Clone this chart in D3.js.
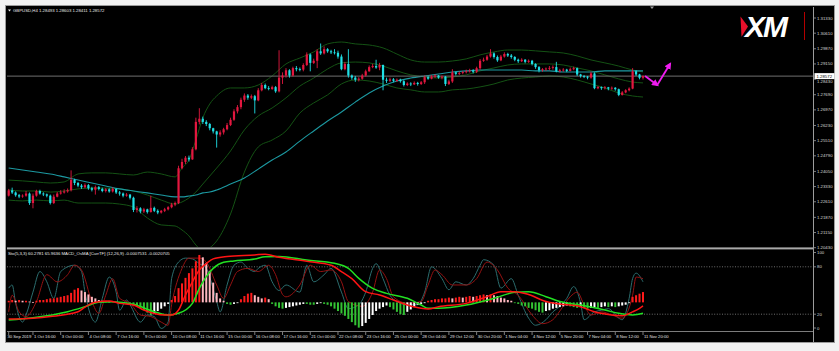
<!DOCTYPE html>
<html>
<head>
<meta charset="utf-8">
<title>GBPUSD H4</title>
<script src="https://cdnjs.cloudflare.com/ajax/libs/d3/7.8.5/d3.min.js"></script>
<style>
  body { margin: 0; background: #f2f2f2; }
  svg { display: block; }
  text { font-family: "Liberation Sans", Arial, sans-serif; }
</style>
</head>
<body>
<script>
//---- price data (H4 bars, open = previous close) ----
var symbol = "GBPUSD,H4";
var firstOpen = 1.2290;

var closes = [
  1.2315,1.2305,1.2292,1.2286,1.2290,1.2300,1.2255,1.2290,1.2312,1.2300,
  1.2296,1.2290,1.2255,1.2285,1.2300,1.2305,1.2310,1.2316,1.2365,1.2350,
  1.2338,1.2330,1.2340,1.2325,1.2318,1.2330,1.2322,1.2312,1.2320,1.2310,
  1.2322,1.2305,1.2300,1.2290,1.2295,1.2280,1.2222,1.2230,1.2215,1.2225,
  1.2212,1.2232,1.2218,1.2210,1.2218,1.2225,1.2235,1.2248,1.2255,1.2420,
  1.2450,1.2470,1.2462,1.2510,1.2640,1.2655,1.2640,1.2630,1.2610,1.2595,
  1.2580,1.2590,1.2605,1.2625,1.2650,1.2690,1.2710,1.2745,1.2765,1.2755,
  1.2762,1.2742,1.2790,1.2815,1.2800,1.2796,1.2805,1.2785,1.2850,1.2860,
  1.2885,1.2860,1.2895,1.2890,1.2888,1.2910,1.2960,1.2920,1.2930,1.2975,
  1.2965,1.2985,1.2975,1.2970,1.2968,1.2950,1.2890,1.2915,1.2860,1.2850,
  1.2840,1.2845,1.2860,1.2880,1.2900,1.2905,1.2898,1.2910,1.2840,1.2835,
  1.2842,1.2835,1.2840,1.2833,1.2815,1.2822,1.2818,1.2825,1.2820,1.2828,
  1.2852,1.2845,1.2855,1.2860,1.2850,1.2855,1.2820,1.2832,1.2875,1.2868,
  1.2872,1.2876,1.2880,1.2884,1.2878,1.2895,1.2930,1.2935,1.2950,1.2965,
  1.2948,1.2932,1.2950,1.2962,1.2955,1.2948,1.2935,1.2928,1.2935,1.2925,
  1.2930,1.2915,1.2900,1.2885,1.2890,1.2893,1.2896,1.2900,1.2880,1.2885,
  1.2888,1.2882,1.2890,1.2895,1.2865,1.2858,1.2855,1.2850,1.2870,1.2800,
  1.2805,1.2800,1.2804,1.2798,1.2802,1.2795,1.2768,1.2780,1.2790,1.2798,
  1.2880,1.2865,1.28493,1.28572
];

var highs = [
  1.2322,1.2328,1.2310,1.2298,1.2296,1.2312,1.2305,1.2300,1.2318,1.2318,
  1.2306,1.2300,1.2295,1.2295,1.2308,1.2316,1.2320,1.2324,1.2410,1.2370,
  1.2355,1.2345,1.2348,1.2345,1.2332,1.2338,1.2336,1.2328,1.2326,1.2325,
  1.2330,1.2325,1.2312,1.2305,1.2302,1.2298,1.2285,1.2240,1.2235,1.2232,
  1.2228,1.2290,1.2238,1.2225,1.2222,1.2232,1.2240,1.2256,1.2262,1.2432,
  1.2465,1.2478,1.2480,1.2520,1.2660,1.2705,1.2665,1.2648,1.2635,1.2612,
  1.2598,1.2600,1.2612,1.2635,1.2660,1.2700,1.2720,1.2755,1.2775,1.2772,
  1.2770,1.2768,1.2800,1.2825,1.2822,1.2810,1.2812,1.2810,1.2980,1.2875,
  1.2895,1.2890,1.2902,1.2905,1.2898,1.2918,1.2970,1.2965,1.2940,1.2985,
  1.3012,1.2998,1.2990,1.2982,1.2985,1.2978,1.2960,1.2925,1.2985,1.2865,
  1.2858,1.2852,1.2868,1.2888,1.2908,1.2915,1.2935,1.2920,1.2912,1.2850,
  1.2850,1.2848,1.2846,1.2845,1.2838,1.2828,1.2828,1.2832,1.2830,1.2834,
  1.2860,1.2858,1.2862,1.2866,1.2862,1.2860,1.2858,1.2840,1.2890,1.2878,
  1.2880,1.2882,1.2888,1.2892,1.2890,1.2902,1.2938,1.2945,1.2958,1.2985,
  1.2970,1.2955,1.2958,1.2970,1.2968,1.2962,1.2952,1.2940,1.2942,1.2938,
  1.2936,1.2934,1.2918,1.2905,1.2895,1.2898,1.2905,1.2908,1.2925,1.2892,
  1.2895,1.2892,1.2898,1.2902,1.2898,1.2868,1.2862,1.2858,1.2878,1.2875,
  1.2810,1.2808,1.2810,1.2806,1.2808,1.2805,1.2798,1.2786,1.2795,1.2804,
  1.2895,1.2885,1.2868,1.28603
];

var lows = [
  1.2286,1.2298,1.2285,1.2278,1.2280,1.2285,1.2246,1.2230,1.2285,1.2295,
  1.2288,1.2282,1.2248,1.2250,1.2282,1.2295,1.2300,1.2304,1.2310,1.2340,
  1.2330,1.2322,1.2325,1.2318,1.2310,1.2295,1.2315,1.2306,1.2305,1.2304,
  1.2305,1.2298,1.2290,1.2282,1.2285,1.2272,1.2212,1.2210,1.2206,1.2208,
  1.2205,1.2210,1.2212,1.2202,1.2205,1.2212,1.2220,1.2230,1.2240,1.2250,
  1.2415,1.2440,1.2452,1.2460,1.2505,1.2628,1.2630,1.2620,1.2600,1.2585,
  1.2518,1.2570,1.2580,1.2600,1.2620,1.2645,1.2680,1.2700,1.2735,1.2745,
  1.2748,1.2680,1.2738,1.2785,1.2795,1.2790,1.2792,1.2778,1.2780,1.2820,
  1.2850,1.2850,1.2855,1.2880,1.2880,1.2880,1.2905,1.2880,1.2915,1.2895,
  1.2958,1.2960,1.2968,1.2962,1.2960,1.2940,1.2885,1.2885,1.2850,1.2840,
  1.2830,1.2832,1.2840,1.2855,1.2878,1.2895,1.2892,1.2885,1.2790,1.2825,
  1.2830,1.2828,1.2830,1.2826,1.2808,1.2810,1.2810,1.2815,1.2812,1.2815,
  1.2820,1.2840,1.2842,1.2848,1.2845,1.2842,1.2810,1.2815,1.2825,1.2860,
  1.2862,1.2866,1.2870,1.2874,1.2870,1.2872,1.2888,1.2925,1.2930,1.2945,
  1.2940,1.2925,1.2928,1.2945,1.2948,1.2940,1.2928,1.2920,1.2924,1.2918,
  1.2920,1.2908,1.2892,1.2875,1.2878,1.2882,1.2885,1.2888,1.2875,1.2875,
  1.2878,1.2876,1.2880,1.2885,1.2858,1.2850,1.2848,1.2842,1.2845,1.2795,
  1.2795,1.2792,1.2794,1.2790,1.2792,1.2788,1.2762,1.2765,1.2776,1.2785,
  1.2795,1.2858,1.2842,1.28411
];

//bollinger bands and slow MA
var bandBars = [0,4,8,12,16,20,24,28,32,36,40,44,48,50,52,54,56,58,60,64,68,72,76,80,84,88,92,96,100,104,
  108,112,116,120,124,128,132,136,140,144,148,152,156,160,164,168,172,176,180,183];
var bbUpper = [1.2364,1.2360,1.2355,1.2350,1.2355,1.2393,1.2398,1.2398,1.2393,1.2388,1.2402,1.2393,1.2379,
  1.2421,1.2459,1.2554,1.2659,1.2725,1.2763,1.2801,1.2801,1.2815,1.2858,1.2915,1.2943,1.2972,1.3010,1.3019,
  1.3010,1.3005,1.2991,1.2962,1.2934,1.2924,1.2924,1.2929,1.2939,1.2958,1.2972,1.2981,1.2981,1.2977,1.2972,
  1.2967,1.2953,1.2934,1.2920,1.2905,1.2886,1.2877];
var bbMid = [1.2317,1.2312,1.2312,1.2307,1.2312,1.2322,1.2326,1.2326,1.2322,1.2312,1.2293,1.2269,1.2250,
  1.2260,1.2279,1.2307,1.2345,1.2383,1.2421,1.2502,1.2602,1.2668,1.2706,1.2754,1.2810,1.2848,1.2891,1.2920,
  1.2924,1.2920,1.2905,1.2882,1.2863,1.2853,1.2848,1.2853,1.2863,1.2882,1.2896,1.2910,1.2915,1.2915,1.2915,
  1.2910,1.2896,1.2882,1.2863,1.2844,1.2829,1.2825];
var bbLower = [1.2269,1.2265,1.2269,1.2265,1.2269,1.2255,1.2255,1.2255,1.2250,1.2236,1.2184,1.2151,1.2146,
  1.2127,1.2099,1.2056,1.2027,1.2042,1.2075,1.2203,1.2402,1.2521,1.2554,1.2597,1.2682,1.2730,1.2768,1.2820,
  1.2839,1.2834,1.2820,1.2801,1.2792,1.2782,1.2782,1.2792,1.2796,1.2806,1.2820,1.2839,1.2848,1.2853,1.2858,
  1.2853,1.2839,1.2820,1.2801,1.2777,1.2763,1.2758];
var maSlow = [1.2421,1.2412,1.2402,1.2393,1.2379,1.2364,1.2350,1.2336,1.2322,1.2312,1.2303,1.2293,1.2284,
  1.2284,1.2288,1.2293,1.2303,1.2307,1.2317,1.2345,1.2374,1.2416,1.2459,1.2497,1.2549,1.2597,1.2644,1.2687,
  1.2734,1.2777,1.2810,1.2834,1.2848,1.2858,1.2867,1.2877,1.2882,1.2886,1.2886,1.2886,1.2886,1.2882,1.2882,
  1.2877,1.2877,1.2877,1.2882,1.2882,1.2882,1.2882];

var priceTicks = [1.31330,1.30610,1.29870,1.29150,1.28430,1.27690,1.26970,1.26230,1.25510,
  1.24790,1.24050,1.23330,1.22610,1.21870,1.21150,1.20430];

//stochastic (5,3,3)
var stochMainBars = [0,1,2,4,5,7,9,11,13,15,19,21,22,24,25,27,29,31,32,34,35,38,40,42,44,46,47,49,51,53,
  55,57,58,60,61,63,65,67,69,71,72,74,76,78,80,84,86,88,91,93,96,98,101,103,105,106,108,110,112,115,
  118,120,122,125,127,129,132,134,136,137,140,142,145,147,150,152,155,157,159,161,163,165,166,169,171,173,
  176,177,179,180,181,183];
var stochMain = [53,57,34,10,19,48,74,61,40,74,82,74,48,15,10,40,67,48,25,38,32,10,19,17,2,10,65,86,91,90,
  84,78,67,36,23,57,82,86,78,74,78,82,61,50,57,48,82,61,70,78,48,27,32,48,78,84,65,44,36,32,
  32,48,80,65,51,61,57,65,82,89,82,53,65,44,15,6,13,23,30,40,55,34,13,23,25,27,15,13,40,65,72,61];
var stochSigBars = [0,1,3,5,8,11,14,17,19,21,24,26,28,30,32,35,38,41,44,46,47,50,52,55,57,60,62,64,66,69,
  72,75,77,79,80,84,87,90,93,96,98,102,105,107,109,111,115,119,121,123,125,128,132,135,138,141,144,147,151,154,
  157,159,162,164,166,168,171,174,177,180,181,183];
var stochSig = [23,44,23,17,36,70,61,70,82,76,36,21,44,65,40,34,19,17,10,6,32,78,91,91,86,57,40,57,74,78,
  74,82,70,45,42,57,82,74,76,61,36,30,48,76,65,42,34,36,57,76,70,57,57,65,86,76,53,44,19,8,
  13,24,42,48,32,19,23,19,15,44,67,65];

//MACD_OsMA histogram and its two lines (window units, zero = 0)
var osma = [
  2,3,2,3,2,2,1,0.5,2,3,
  3,4,5,5,6,7,8,9,12,16,
  18,15,13,10,7,5,3,2,2,1,
  1,0.5,-1,-2,-2,-3,-4,-5,-7,-10,
  -13,-16,-14,-11,-8,-5,-2,3,8,18,
  24,31,37,43,52,60,57,50,40,25,
  12,5,2,-2,-3,-2,-1,4,8,11,
  12,9,7,5,6,4,-2,-5,-7,-8,
  -7,-6,-5,-4,-3,-2,-2,-3,-3,-2,
  -1,-2,-3,-5,-8,-11,-14,-17,-21,-25,
  -29,-32,-30,-26,-21,-16,-11,-8,-6,-4,
  -6,-9,-12,-15,-16,-12,-9,-6,-3,-2,
  -1,2,3,4,4,5,5,6,5,6,
  7,6,7,8,7,8,9,10,9,10,
  9,8,6,5,3,2,-1,-2,-4,-5,
  -7,-8,-10,-12,-13,-11,-10,-8,-7,-6,
  -5,-4,-5,-6,-7,-6,-7,-8,-7,-6,
  -7,-6,-5,-6,-5,-6,-5,-4,-3,-1,
  7,9,11,13
];
var macdBars = [0,7,12,20,22,25,29,32,36,39,42,45,47,49,51,53,55,57,59,63,71,74,78,86,93,96,99,103,107,111,
  115,119,121,124,132,138,142,146,150,155,159,165,169,174,177,180,182,183];
var macdMain = [-21,-20,-18,-12,-6,0,1.7,-1.3,-3.4,-9.7,-14,-16,-16,-9.7,9.3,26,41,49,55,58,60,61,57,52,47,39,30,13.5,9.3,3,
  -3.4,-7.6,-8.4,-5.5,-1.3,7.2,13.5,13.5,10,1,-2,-5.5,-12,-16,-17,-12,-7.6,-4.6];
var macdSigBars = [0,7,17,22,26,30,36,42,46,49,53,55,57,59,62,65,71,74,78,86,94,98,101,105,109,115,119,121,124,132,
  140,146,150,155,159,165,172,176,180,183];
var macdSig = [-22.3,-19.4,-11.8,-5.5,0,0.9,-2.5,-11.8,-16,-13.9,-1.3,17.7,32.5,43,50.7,52.3,54.9,57.8,58,53.6,
  49.4,43,30.4,17.7,11.4,5.1,-3.4,-7.6,-7.6,-3.4,5.1,12.7,13.5,7.2,1,-3.4,-9.7,-13.9,-16,-13.9];

var subLevels = [80, 20];
var subTicks = [100, 80, 20, 0];
var stochTitle = "Sto(5,3,3) 60.2781 65.9636";
var osmaTitle = "MACD_OsMA [CurrTF] (12,26,9) -0.0007531 -0.0020705";

//time axis
var timeBars = [0,7,15,23,31,39,47,55,63,71,79,87,95,103,111,119,127,135,143,151,159,167,175,183];
var timeLabels = ["30 Sep 2019","1 Oct 16:00","3 Oct 00:00","4 Oct 08:00","7 Oct 16:00","9 Oct 00:00",
  "10 Oct 08:00","11 Oct 16:00","15 Oct 00:00","16 Oct 08:00","17 Oct 16:00","21 Oct 00:00","22 Oct 08:00",
  "23 Oct 16:00","25 Oct 00:00","28 Oct 04:00","29 Oct 12:00","30 Oct 20:00","1 Nov 04:00","4 Nov 12:00",
  "5 Nov 20:00","7 Nov 04:00","8 Nov 12:00","11 Nov 20:00"];

//forecast arrow drawn on the chart
var arrowBars = [183.6, 187.1, 190.8];
var arrowPrices = [1.2858, 1.2815, 1.2915];

//---- layout ----
var W = 839, H = 351;
var main = { left: 7, right: 813, top: 7, bottom: 247 };
var sub = { top: 250, bottom: 331 };
var n = closes.length;
var opens = closes.map(function(c, i) { return i === 0 ? firstOpen : closes[i - 1]; });

var x = d3.scaleLinear().domain([0, n - 1]).range([8.7, 643]);
var y = d3.scaleLinear().domain([1.20430, 1.31330]).range([247.7, 18]);
var ySub = d3.scaleLinear().domain([0, 100]).range([330, 251]);
var yOsma = d3.scaleLinear().domain([-35, 65]).range([330, 251]);

var svg = d3.select("body").append("svg")
    .attr("width", W)
    .attr("height", H);

var defs = svg.append("defs");
defs.append("clipPath").attr("id", "clipMain").append("rect")
    .attr("x", main.left).attr("y", main.top)
    .attr("width", main.right - main.left).attr("height", main.bottom - main.top);
defs.append("clipPath").attr("id", "clipSub").append("rect")
    .attr("x", main.left).attr("y", sub.top)
    .attr("width", main.right - main.left).attr("height", sub.bottom - sub.top);
defs.append("marker").attr("id", "head")
    .attr("viewBox", "0 0 10 10").attr("refX", 7).attr("refY", 5)
    .attr("markerWidth", 7).attr("markerHeight", 7)
    .attr("markerUnits", "userSpaceOnUse").attr("orient", "auto")
    .append("path").attr("d", "M0,0 L10,5 L0,10 z").attr("fill", "#f01cf0");

//black chart area with grey frame
svg.append("rect")
    .attr("x", 5.5).attr("y", 5.5).attr("width", 829).attr("height", 337)
    .attr("fill", "#000").attr("stroke", "#9c9c9c");

function pairs(idx, vals) {
    return idx.map(function(b, i) { return [b, vals[i]]; });
}

//---- main window ----
var mainG = svg.append("g").attr("clip-path", "url(#clipMain)");

var priceLine = d3.line()
    .x(function(d) { return x(d[0]); })
    .y(function(d) { return y(d[1]); })
    .curve(d3.curveMonotoneX);

[bbUpper, bbMid, bbLower].forEach(function(band) {
    mainG.append("path")
        .attr("d", priceLine(pairs(bandBars, band)))
        .attr("fill", "none").attr("stroke", "#145214").attr("stroke-width", 1);
});
mainG.append("path")
    .attr("d", priceLine(pairs(bandBars, maSlow)))
    .attr("fill", "none").attr("stroke", "#1c99a1").attr("stroke-width", 1.1);

//current price line
var last = closes[n - 1];
mainG.append("line")
    .attr("x1", main.left).attr("x2", main.right)
    .attr("y1", y(last)).attr("y2", y(last))
    .attr("stroke", "#6f6f6f").attr("stroke-width", 1);

//candles
var bars = d3.range(n);
function candleColor(i) { return closes[i] >= opens[i] ? "#e3173f" : "#1fe0e6"; }

mainG.selectAll(".wick").data(bars).enter().append("line")
    .attr("class", "wick")
    .attr("x1", function(i) { return x(i); })
    .attr("x2", function(i) { return x(i); })
    .attr("y1", function(i) { return y(highs[i]); })
    .attr("y2", function(i) { return y(lows[i]); })
    .attr("stroke", candleColor).attr("stroke-width", 0.9);

mainG.selectAll(".body").data(bars).enter().append("rect")
    .attr("class", "body")
    .attr("x", function(i) { return x(i) - 1.1; })
    .attr("width", 2.2)
    .attr("y", function(i) { return y(Math.max(opens[i], closes[i])); })
    .attr("height", function(i) { return Math.max(0.8, Math.abs(y(opens[i]) - y(closes[i]))); })
    .attr("fill", candleColor);

//forecast arrow
var ap = pairs(arrowBars, arrowPrices);
for (var k = 0; k < ap.length - 1; k++) {
    mainG.append("line")
        .attr("x1", x(ap[k][0])).attr("y1", y(ap[k][1]))
        .attr("x2", x(ap[k + 1][0])).attr("y2", y(ap[k + 1][1]))
        .attr("stroke", "#f01cf0").attr("stroke-width", 1.8)
        .attr("marker-end", "url(#head)");
}

//title
svg.append("path").attr("d", "M8,9.5 L11,9.5 L9.5,11.5 z").attr("fill", "#e8e8e8");
svg.append("text")
    .attr("x", 13).attr("y", 11.6)
    .attr("font-size", 4.3).attr("fill", "#e8e8e8")
    .text(symbol + "  " + opens[n - 1].toFixed(5) + " " + highs[n - 1].toFixed(5) + " " +
          lows[n - 1].toFixed(5) + " " + last.toFixed(5));

//shift marker at top
svg.append("path").attr("d", "M650,6.5 L654,6.5 L652,9 z").attr("fill", "#9c9c9c");

//XM logo
svg.append("path").attr("d", "M740.5,16.5 L748,26.5 L741.5,36.8 z").attr("fill", "#e8102a");
svg.append("text")
    .attr("x", 745).attr("y", 37.2)
    .attr("font-family", "DejaVu Sans").attr("font-weight", "bold").attr("font-style", "italic")
    .attr("font-size", 30).attr("letter-spacing", -2).attr("fill", "#ffffff")
    .text("XM");
svg.append("line")
    .attr("x1", 804.5).attr("x2", 804.5).attr("y1", 12).attr("y2", 40)
    .attr("stroke", "#b30000").attr("stroke-width", 1);

//price axis
svg.append("line")
    .attr("x1", main.right + 0.5).attr("x2", main.right + 0.5)
    .attr("y1", main.top).attr("y2", 342)
    .attr("stroke", "#9c9c9c");

var pAxis = svg.append("g");
priceTicks.forEach(function(p) {
    //a grid label hidden by the current price box is pushed just below it
    var near = Math.abs(y(p) - y(last)) < 7;
    var ty = near ? y(last) + 6.6 : y(p) + 1.5;
    pAxis.append("line")
        .attr("x1", main.right).attr("x2", main.right + 3)
        .attr("y1", y(p)).attr("y2", y(p))
        .attr("stroke", "#9c9c9c").attr("stroke-width", 0.8);
    pAxis.append("text")
        .attr("x", main.right + 4).attr("y", ty)
        .attr("font-size", 4.3).attr("fill", "#d8d8d8")
        .text(p.toFixed(5));
});

//current price label
svg.append("rect")
    .attr("x", main.right + 1.5).attr("y", y(last) - 3)
    .attr("width", 20).attr("height", 6)
    .attr("fill", "#ffffff");
svg.append("text")
    .attr("x", main.right + 3.5).attr("y", y(last) + 1.5)
    .attr("font-size", 4.3).attr("fill", "#000")
    .text(last.toFixed(5));

//window separator
svg.append("rect")
    .attr("x", main.left).attr("y", main.bottom + 0.4)
    .attr("width", main.right - main.left).attr("height", 2)
    .attr("fill", "#a9a9a9");

//---- sub window ----
var subG = svg.append("g").attr("clip-path", "url(#clipSub)");

subLevels.forEach(function(v) {
    subG.append("line")
        .attr("x1", main.left).attr("x2", main.right)
        .attr("y1", ySub(v)).attr("y2", ySub(v))
        .attr("stroke", "#8a8a8a").attr("stroke-width", 0.8)
        .attr("stroke-dasharray", "1,1.6");
});

var subLine = d3.line()
    .x(function(d) { return x(d[0]); })
    .y(function(d) { return ySub(d[1]); })
    .curve(d3.curveMonotoneX);

subG.append("path")
    .attr("d", subLine(pairs(stochMainBars, stochMain)))
    .attr("fill", "none").attr("stroke", "#2b6d6e").attr("stroke-width", 1);
subG.append("path")
    .attr("d", subLine(pairs(stochSigBars, stochSig)))
    .attr("fill", "none").attr("stroke", "#951212").attr("stroke-width", 1);

//OsMA histogram colours: rising/falling above and below zero
function osmaColor(i) {
    var v = osma[i], prev = i > 0 ? osma[i - 1] : 0;
    if (v >= 0) return v >= prev ? "#ff1a1a" : "#ffb8c0";
    return v <= prev ? "#33c233" : "#ffffff";
}
subG.selectAll(".hist").data(bars).enter().append("rect")
    .attr("class", "hist")
    .attr("x", function(i) { return x(i) - 1; })
    .attr("width", 2)
    .attr("y", function(i) { return Math.min(yOsma(0), yOsma(osma[i])); })
    .attr("height", function(i) { return Math.max(0.8, Math.abs(yOsma(osma[i]) - yOsma(0))); })
    .attr("fill", osmaColor);

var osmaLine = d3.line()
    .x(function(d) { return x(d[0]); })
    .y(function(d) { return yOsma(d[1]); })
    .curve(d3.curveMonotoneX);

subG.append("path")
    .attr("d", osmaLine(pairs(macdSigBars, macdSig)))
    .attr("fill", "none").attr("stroke", "#22e022").attr("stroke-width", 1.5);
subG.append("path")
    .attr("d", osmaLine(pairs(macdBars, macdMain)))
    .attr("fill", "none").attr("stroke", "#ff1414").attr("stroke-width", 1.5);

svg.append("text")
    .attr("x", 8).attr("y", 255.2)
    .attr("font-size", 4.3).attr("fill", "#e8e8e8")
    .text(stochTitle + "  " + osmaTitle);

//sub window scale
subTicks.forEach(function(v) {
    var ty = Math.max(252.5, Math.min(328, ySub(v)));
    svg.append("line")
        .attr("x1", main.right).attr("x2", main.right + 3)
        .attr("y1", ty).attr("y2", ty)
        .attr("stroke", "#9c9c9c").attr("stroke-width", 0.8);
    svg.append("text")
        .attr("x", main.right + 4).attr("y", ty + 1.5)
        .attr("font-size", 4.3).attr("fill", "#d8d8d8")
        .text(v);
});

//bottom edge of the sub window
svg.append("line")
    .attr("x1", main.left).attr("x2", main.right)
    .attr("y1", sub.bottom + 0.5).attr("y2", sub.bottom + 0.5)
    .attr("stroke", "#7c7c7c").attr("stroke-width", 1);

//time axis
var tAxis = svg.append("g");
timeBars.forEach(function(b, i) {
    tAxis.append("line")
        .attr("x1", x(b)).attr("x2", x(b))
        .attr("y1", sub.bottom + 1).attr("y2", sub.bottom + 4)
        .attr("stroke", "#9c9c9c").attr("stroke-width", 0.8);
    tAxis.append("text")
        .attr("x", i === 0 ? main.left + 0.5 : x(b) + 1)
        .attr("y", sub.bottom + 6.8)
        .attr("font-size", 4.2).attr("fill", "#e0e0e0")
        .text(timeLabels[i]);
});
</script>
</body>
</html>
